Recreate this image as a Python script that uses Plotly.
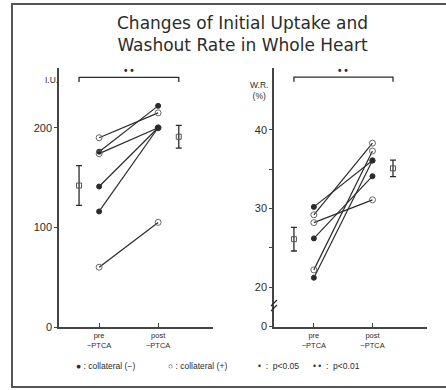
import plotly.graph_objects as go

# ---------------- data ----------------
stages = ["pre", "post"]
stage_labels = ["pre<br>−PTCA", "post<br>−PTCA"]

# Initial uptake (I.U.)
iu_pre = [190, 176, 174, 141, 116, 60]
iu_post = [215, 222, 200, 200, 200, 105]
iu_group = ["+", "-", "+", "-", "-", "+"]
iu_mean = [142, 191]
iu_sd = [20, 11.5]

# Washout rate (W.R. %)
wr_pre = [30.2, 29.2, 28.2, 26.2, 22.2, 21.2]
wr_post = [36.1, 38.3, 31.1, 34.1, 37.3, 36.1]
wr_group = ["-", "+", "+", "-", "+", "-"]
wr_mean = [26.1, 35.1]
wr_sd = [1.5, 1.05]

legend_items = ["● : collateral (−)", "○ : collateral (+)", "•  :  p<0.05", "• •  :  p<0.01"]

# ---------------- figure ----------------
W, H = 446, 390
INK = "#2b2b2b"
FONT = "Liberation Sans"

fig = go.Figure()

def px(x):
    return x / W

def py(y):
    return 1 - y / H

mean_x = [-0.34, 1.35]

def add_panel(pre, post, group, mean, sd, xa, ya):
    for a, b, g in zip(pre, post, group):
        filled = g == "-"
        fig.add_trace(go.Scatter(
            x=[0, 1], y=[a, b], xaxis=xa, yaxis=ya, mode="lines+markers",
            line=dict(color=INK, width=1.2),
            marker=dict(symbol="circle" if filled else "circle-open",
                        size=5 if filled else 6,
                        color=INK if filled else "#666",
                        line=dict(width=1, color=INK if filled else "#666")),
            showlegend=False, hoverinfo="skip"))
    fig.add_trace(go.Scatter(
        x=mean_x, y=mean, xaxis=xa, yaxis=ya, mode="markers",
        marker=dict(symbol="square-open", size=5, color="#555", line=dict(width=1)),
        error_y=dict(type="data", array=sd, color=INK, thickness=1.3, width=3),
        showlegend=False, hoverinfo="skip"))

add_panel(iu_pre, iu_post, iu_group, iu_mean, iu_sd, "x", "y")
add_panel(wr_pre, wr_post, wr_group, wr_mean, wr_sd, "x2", "y2")

axis_common = dict(showgrid=False, zeroline=False, showline=True, linecolor="#444",
                   linewidth=1.5, color=INK, automargin=False,
                   tickfont=dict(size=11, family=FONT, color=INK))

xcommon = dict(axis_common, range=[-0.68, 1.93], tickvals=[0, 1], ticktext=stage_labels,
               ticks="inside", ticklen=4, tickcolor="#444",
               tickfont=dict(size=7.5, family=FONT, color=INK))

fig.update_layout(
    width=W, height=H, margin=dict(l=0, r=0, t=0, b=0, autoexpand=False),
    paper_bgcolor="white", plot_bgcolor="white",
    font=dict(family=FONT, color=INK),
    xaxis=dict(xcommon, domain=[px(59), px(213)], anchor="y"),
    yaxis=dict(axis_common, domain=[py(327), py(68)], anchor="x", range=[0, 260],
               tickvals=[0, 100, 200], ticks="outside", ticklen=3, tickcolor="#444"),
    xaxis2=dict(xcommon, domain=[px(274), px(427)], anchor="y2"),
    yaxis2=dict(axis_common, domain=[py(327), py(68)], anchor="x2", range=[14.94, 47.85],
                tickvals=[15, 20, 25, 30, 35, 40], ticktext=["0", "20", "", "30", "", "40"],
                ticks="outside", ticklen=3, tickcolor="#444"),
)

# significance brackets
def bracket(xa, ya, top, drop):
    fig.add_shape(type="path", xref=xa, yref=ya,
                  path=f"M {mean_x[0]} {top - drop} L {mean_x[0]} {top} L {mean_x[1]} {top} L {mean_x[1]} {top - drop}",
                  line=dict(color=INK, width=1.3))
    fig.add_annotation(xref=xa, yref=ya, x=(mean_x[0] + mean_x[1]) / 2, y=top,
                       text="<b>• •</b>", showarrow=False, yanchor="bottom", yshift=-1,
                       font=dict(size=10, color=INK, family=FONT))

bracket("x", "y", 250.5, 4.5)
bracket("x2", "y2", 46.7, 0.6)

# axis titles
fig.add_annotation(xref="paper", yref="paper", x=px(43), y=py(73), text="I.U.",
                   showarrow=False, font=dict(size=8.5, color=INK, family=FONT))
fig.add_annotation(xref="paper", yref="paper", x=px(259), y=py(78), text="W.R.<br>(%)",
                   showarrow=False, font=dict(size=8.5, color=INK, family=FONT))

# axis break marks on right panel
for dy in (0, 5):
    fig.add_shape(type="line", xref="paper", yref="paper",
                  x0=px(271), y0=py(311 - dy), x1=px(277), y1=py(305 - dy),
                  line=dict(color=INK, width=1.2))

# title
fig.add_annotation(xref="paper", yref="paper", x=px(242), y=py(34),
                   yanchor="middle",
                   text="Changes of Initial Uptake and<br>Washout Rate in Whole Heart",
                   showarrow=False, font=dict(size=17, color=INK, family="DejaVu Sans"))

# legend row
legend_x = [74, 166, 256, 311]
for t, xx in zip(legend_items, legend_x):
    fig.add_annotation(xref="paper", yref="paper", x=px(xx), y=py(373), text=t,
                       xanchor="left", showarrow=False,
                       font=dict(size=8.5, color=INK, family=FONT))

# frame
fig.add_shape(type="rect", xref="paper", yref="paper",
              x0=px(12), y0=py(387), x1=px(450), y1=py(4),
              line=dict(color="#555", width=2))

fig.write_html("out.html", config={"displayModeBar": False},
               post_script="document.body.style.margin='0';document.body.style.padding='0';")
